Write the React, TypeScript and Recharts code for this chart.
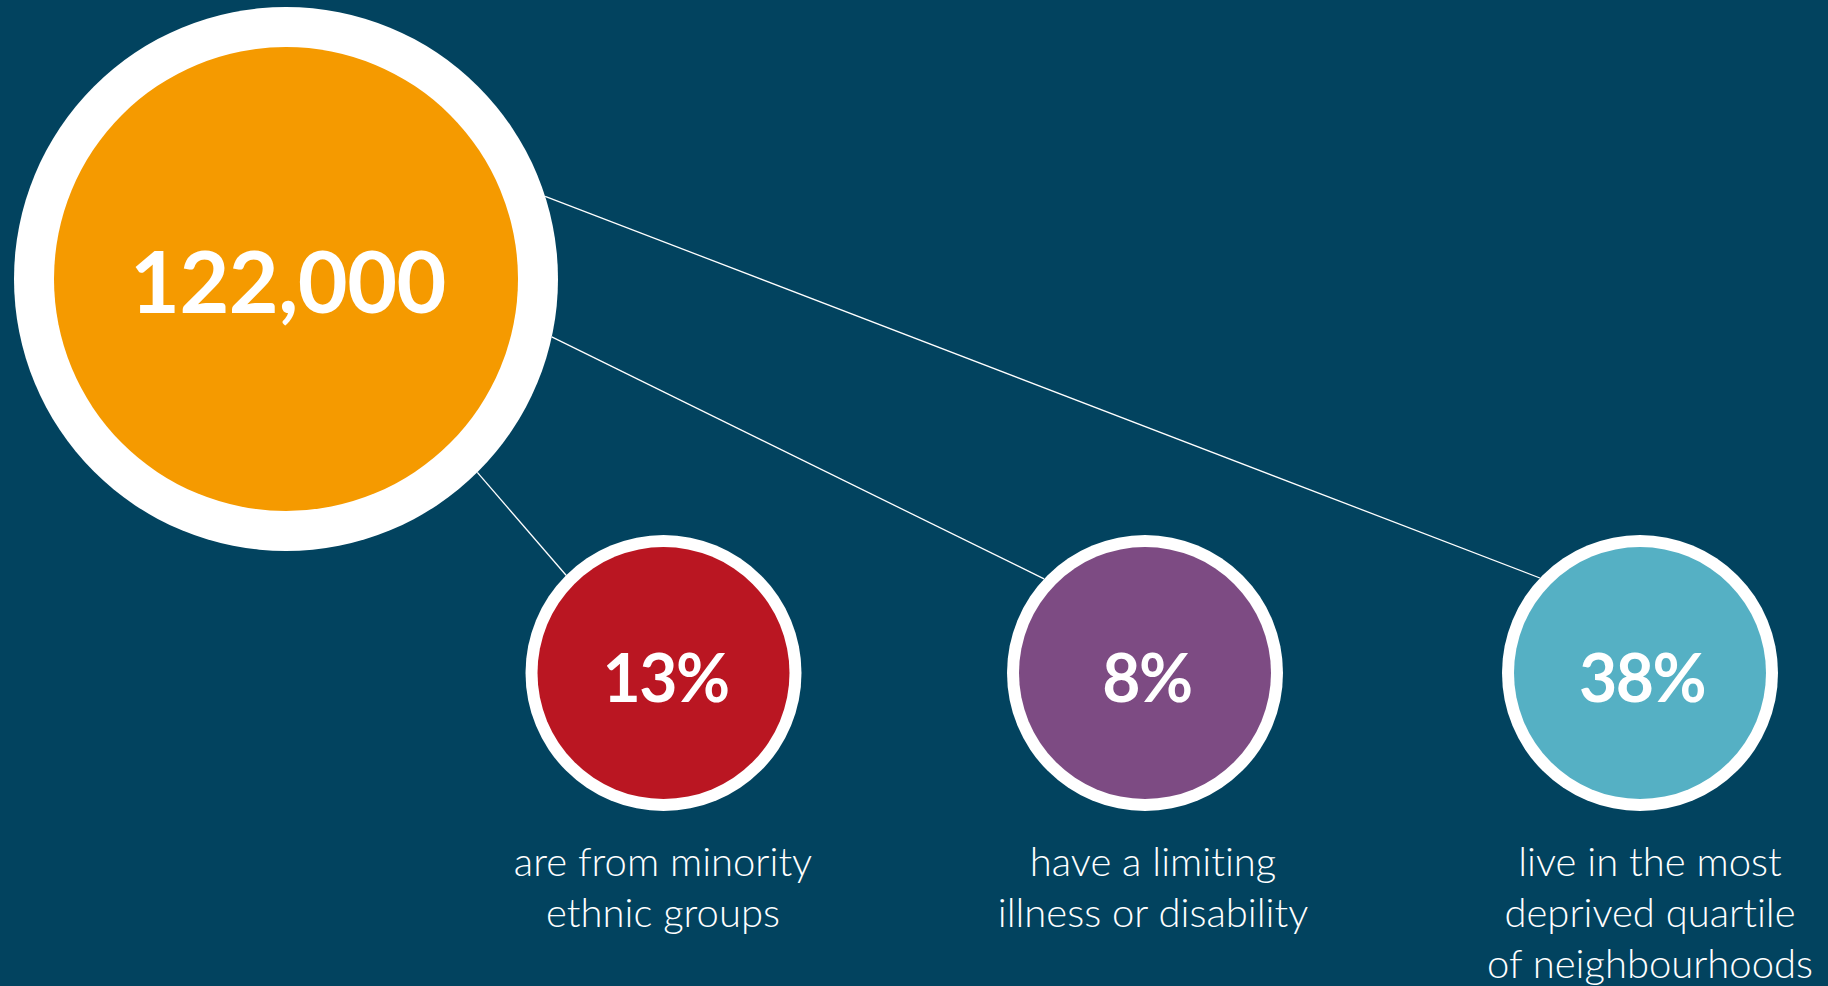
import React from 'react';
import { ScatterChart, Scatter, XAxis, YAxis, ReferenceLine } from 'recharts';

const WIDTH = 1828;
const HEIGHT = 986;

// Headline population figure
const totalPeople = 122000;

// Share of that population in each group, in percent
const groupNames = ['Minority ethnic', 'Limiting illness', 'Most deprived'];
const groupShares = [13, 8, 38];
const groupCaptions = [
  ['are from minority', 'ethnic groups'],
  ['have a limiting', 'illness or disability'],
  ['live in the most', 'deprived quartile', 'of neighbourhoods'],
];

// Colours
const BACKGROUND = '#02435F';
const HUB_COLOUR = '#F59A00';
const groupColours = ['#BA1622', '#7D4B83', '#55B0C4'];

// Layout, in chart units (one unit per pixel)
const hubPos = { x: 286, y: 279 };
const HUB_OUTER = 272;
const HUB_INNER = 232;
const groupX = [663.5, 1145, 1640];
const GROUP_Y = 673;
const NODE_OUTER = 138;
const NODE_INNER = 126;
const captionX = [663, 1153, 1650];
const CAPTION_FIRST = 876;
const CAPTION_STEP = 51;
// Where each connector leaves the hub and meets its bubble (degrees, y down)
const connectorHubAngle = [45.3, 12.3, -17.7];
const connectorNodeAngle = [-134.9, -137, -136.5];

const FONT = 'Lato, "Open Sans", sans-serif';

const rad = (d: number) => (d * Math.PI) / 180;

const hubData = [{ x: hubPos.x, y: hubPos.y, value: totalPeople }];
const nodeData = groupShares.map((v, i) => ({
  name: groupNames[i],
  x: groupX[i],
  y: GROUP_Y,
  value: v,
  colour: groupColours[i],
  caption: groupCaptions[i],
  captionX: captionX[i],
}));

const connectors = groupShares.map((_, i) => {
  const a = rad(connectorHubAngle[i]);
  const b = rad(connectorNodeAngle[i]);
  return [
    { x: hubPos.x + HUB_OUTER * Math.cos(a), y: hubPos.y + HUB_OUTER * Math.sin(a) },
    { x: groupX[i] + NODE_OUTER * Math.cos(b), y: GROUP_Y + NODE_OUTER * Math.sin(b) },
  ];
});

const noLigatures = { fontVariantLigatures: 'none' } as React.CSSProperties;

const HubShape = (props: any) => {
  const { cx, cy, payload } = props;
  return (
    <g>
      <circle cx={cx} cy={cy} r={HUB_OUTER} fill="#FFFFFF" />
      <circle cx={cx} cy={cy} r={HUB_INNER} fill={HUB_COLOUR} />
      <text
        x={cx + 2}
        y={cy + 34}
        textAnchor="middle"
        fill="#FFFFFF"
        fontFamily={FONT}
        fontWeight={700}
        fontSize={86}
        letterSpacing={-0.5}
        style={noLigatures}
      >
        {payload.value.toLocaleString('en-US')}
      </text>
    </g>
  );
};

const NodeShape = (props: any) => {
  const { cx, cy, payload } = props;
  return (
    <g>
      <circle cx={cx} cy={cy} r={NODE_OUTER} fill="#FFFFFF" />
      <circle cx={cx} cy={cy} r={NODE_INNER} fill={payload.colour} />
      <text
        x={cx + 2}
        y={cy + 28.5}
        textAnchor="middle"
        fill="#FFFFFF"
        fontFamily={FONT}
        fontWeight={700}
        fontSize={66}
        letterSpacing={-1.5}
        style={noLigatures}
      >
        {`${payload.value}%`}
      </text>
      {payload.caption.map((line: string, j: number) => (
        <text
          key={j}
          x={payload.captionX}
          y={CAPTION_FIRST + j * CAPTION_STEP}
          textAnchor="middle"
          fill="#FFFFFF"
          fontFamily={FONT}
          fontWeight={300}
          fontSize={40}
          style={noLigatures}
        >
          {line}
        </text>
      ))}
    </g>
  );
};

export default function App() {
  return (
    <div
      style={{
        position: 'absolute',
        left: 0,
        top: 0,
        width: WIDTH,
        height: HEIGHT,
        background: BACKGROUND,
        overflow: 'hidden',
      }}
    >
      <ScatterChart width={WIDTH} height={HEIGHT} margin={{ top: 0, right: 0, bottom: 0, left: 0 }}>
        <XAxis type="number" dataKey="x" domain={[0, WIDTH]} hide allowDataOverflow />
        <YAxis type="number" dataKey="y" domain={[0, HEIGHT]} reversed hide allowDataOverflow />
        {connectors.map((seg, i) => (
          <ReferenceLine
            key={i}
            segment={seg}
            stroke="#FFFFFF"
            strokeWidth={1.3}
            ifOverflow="visible"
          />
        ))}
        <Scatter data={hubData} shape={HubShape} isAnimationActive={false} />
        <Scatter data={nodeData} shape={NodeShape} isAnimationActive={false} />
      </ScatterChart>
    </div>
  );
}
